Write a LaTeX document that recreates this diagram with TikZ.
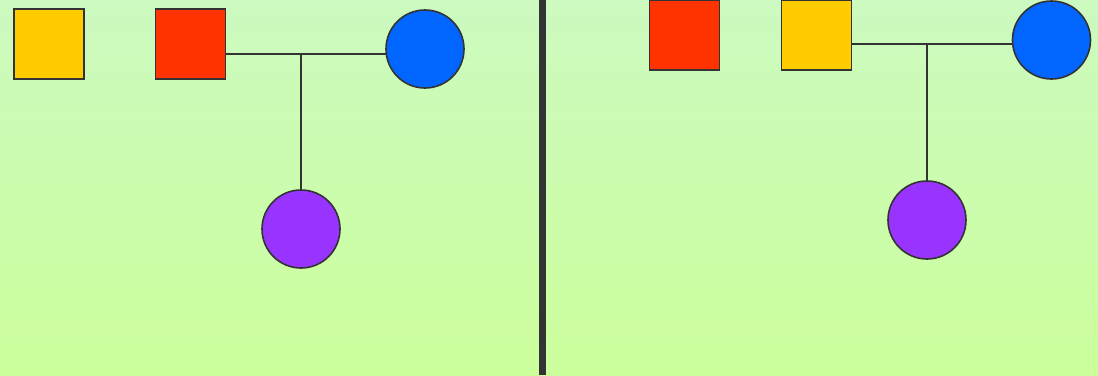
\documentclass[tikz,border=0pt]{standalone}
\usetikzlibrary{positioning}
\definecolor{bgtop}{RGB}{204,250,192}
\definecolor{bgbot}{RGB}{204,255,156}
\definecolor{sq1}{RGB}{255,204,0}
\definecolor{sq2}{RGB}{255,51,0}
\definecolor{cblue}{RGB}{0,102,255}
\definecolor{cpurple}{RGB}{153,51,255}
\definecolor{ink}{RGB}{51,51,51}
\tikzset{
  sqbox/.style={draw=ink, line width=1.6pt, minimum size=70pt, inner sep=0pt, outer sep=0pt},
  circ/.style={draw=ink, line width=1.6pt, circle, minimum size=78pt, inner sep=0pt, outer sep=0pt},
  link/.style={draw=ink, line width=1.6pt},
}
\begin{document}
\begin{tikzpicture}[x=1pt,y=-1pt]
\useasboundingbox (0,0) rectangle (1098,375);
\shade[top color=bgtop, bottom color=bgbot] (0,0) rectangle (1098,375);
% divider
\coordinate (dtop) at (542.7,0);
\coordinate (dbot) at (542.7,375);
\draw[ink, line width=6.5pt] (dtop) -- (dbot);
% left panel
\node[sqbox, fill=sq1] (ly) at (49,44) {};
\node[sqbox, fill=sq2] (lr) at (190.5,44) {};
\node[circ, fill=cblue] (lb) at (425,49) {};
\node[circ, fill=cpurple] (lp) at (301,229) {};
\coordinate (lj) at (301,54);
\draw[link] (lr.east |- lj) -- (lb.west |- lj);
\draw[link] (lj) -- (lp.north);
% right panel
\node[sqbox, fill=sq2] (rr) at (684.5,35) {};
\node[sqbox, fill=sq1] (ry) at (816.5,35) {};
\node[circ, fill=cblue] (rb) at (1051.5,40) {};
\node[circ, fill=cpurple] (rp) at (927,220) {};
\coordinate (rj) at (927,44);
\draw[link] (ry.east |- rj) -- (rb.west |- rj);
\draw[link] (rj) -- (rp.north);
\end{tikzpicture}
\end{document}
